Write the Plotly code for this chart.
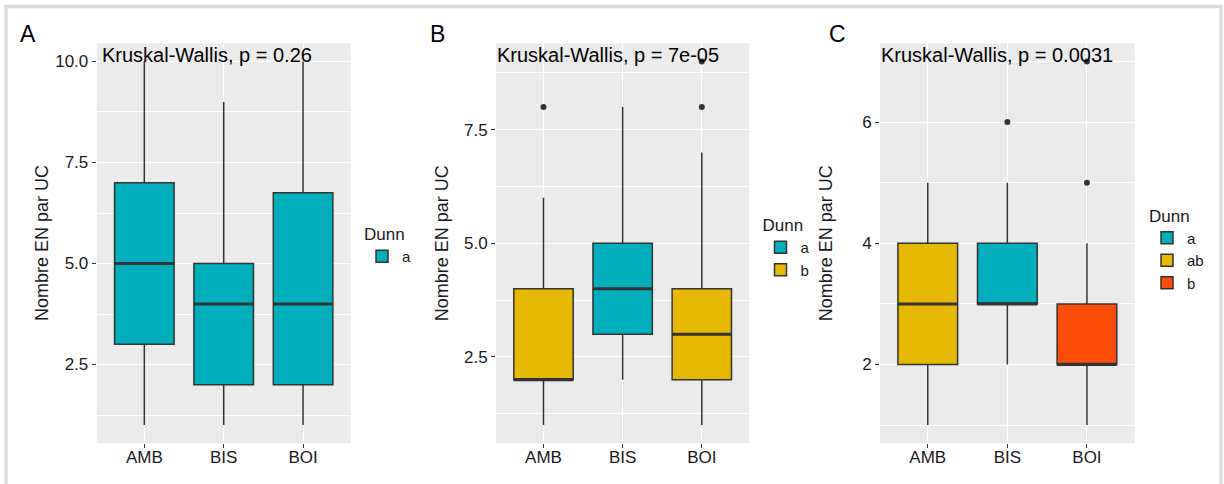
import plotly.graph_objects as go

# ---------------- data ----------------
categories = ["AMB", "BIS", "BOI"]

a_q1 = [3, 2, 2]
a_median = [5, 4, 4]
a_q3 = [7, 5, 6.75]
a_low = [1, 1, 1]
a_high = [10, 9, 10]
a_group = ["a", "a", "a"]
a_outliers = [[], [], []]
a_ticks = [2.5, 5.0, 7.5, 10.0]
a_ticktext = ["2.5", "5.0", "7.5", "10.0"]
a_minor = [1.25, 3.75, 6.25, 8.75]
a_label = "Kruskal-Wallis, p = 0.26"

b_q1 = [2, 3, 2]
b_median = [2, 4, 3]
b_q3 = [4, 5, 4]
b_low = [1, 2, 1]
b_high = [6, 8, 7]
b_group = ["b", "a", "b"]
b_outliers = [[8], [], [8, 9]]
b_ticks = [2.5, 5.0, 7.5]
b_ticktext = ["2.5", "5.0", "7.5"]
b_minor = [1.25, 3.75, 6.25, 8.75]
b_label = "Kruskal-Wallis, p = 7e-05"

c_q1 = [2, 3, 2]
c_median = [3, 3, 2]
c_q3 = [4, 4, 3]
c_low = [1, 2, 1]
c_high = [5, 5, 4]
c_group = ["ab", "a", "b"]
c_outliers = [[], [6], [5, 7]]
c_ticks = [2, 4, 6]
c_ticktext = ["2", "4", "6"]
c_minor = [1, 3, 5, 7]
c_label = "Kruskal-Wallis, p = 0.0031"

panel_palettes = [
    {"a": "#00AFBB"},
    {"a": "#00AFBB", "b": "#E7B800"},
    {"a": "#00AFBB", "ab": "#E7B800", "b": "#FC4E07"},
]

y_title = "Nombre EN par UC"
legend_title = "Dunn"
panel_letters = ["A", "B", "C"]

# ---------------- layout geometry ----------------
W, H = 1224, 484
FONT = "Liberation Sans, Arial, Helvetica, sans-serif"
TXT = "#1a1a1a"
plot_x = [(96.7, 350.7), (496.0, 749.3), (880.0, 1134.7)]
plot_top, plot_bot = 43.3, 443.3
legend_x = [362.0, 760.5, 1147.0]
legend_top = [218.0, 209.0, 199.5]
letter_x = [28, 437, 837]
label_x = [99.5, 495.3, 879.3]


def px_x(v):
    return v / W


def px_y(v):
    return 1 - v / H


panels = [
    (a_q1, a_median, a_q3, a_low, a_high, a_group, a_outliers, a_ticks, a_ticktext, a_minor, a_label),
    (b_q1, b_median, b_q3, b_low, b_high, b_group, b_outliers, b_ticks, b_ticktext, b_minor, b_label),
    (c_q1, c_median, c_q3, c_low, c_high, c_group, c_outliers, c_ticks, c_ticktext, c_minor, c_label),
]

fig = go.Figure()
annotations = []
BOXW = 0.75
positions = list(range(1, len(categories) + 1))

for p, (q1, med, q3, lo, hi, grp, outl, ticks, ticktext, minor, label) in enumerate(panels):
    ax = "" if p == 0 else str(p + 1)
    xa, ya = "x" + ax, "y" + ax
    leg = "legend" if p == 0 else "legend" + str(p + 1)
    pal = panel_palettes[p]
    for g in sorted(set(grp)):
        idx = [i for i, gg in enumerate(grp) if gg == g]
        fig.add_trace(go.Box(
            x=[positions[i] for i in idx],
            q1=[q1[i] for i in idx], median=[med[i] for i in idx], q3=[q3[i] for i in idx],
            lowerfence=[lo[i] for i in idx], upperfence=[hi[i] for i in idx],
            name=g, fillcolor=pal[g], line=dict(color="#333333", width=1.5),
            width=BOXW, boxpoints=False, whiskerwidth=0,
            xaxis=xa, yaxis=ya, legend=leg, showlegend=True, hoverinfo="skip",
        ))
    # thicker median lines
    mx, my = [], []
    for i, m in enumerate(med):
        mx += [positions[i] - BOXW / 2, positions[i] + BOXW / 2, None]
        my += [m, m, None]
    fig.add_trace(go.Scatter(x=mx, y=my, mode="lines", line=dict(color="#333333", width=3),
                             xaxis=xa, yaxis=ya, showlegend=False, hoverinfo="skip"))
    # outliers
    ox, oy = [], []
    for i, vals in enumerate(outl):
        for v in vals:
            ox.append(positions[i])
            oy.append(v)
    if ox:
        fig.add_trace(go.Scatter(x=ox, y=oy, mode="markers", marker=dict(color="#333333", size=6),
                                 xaxis=xa, yaxis=ya, showlegend=False, hoverinfo="skip"))
    # y range with ggplot 5% expansion
    all_vals = lo + hi + [v for vs in outl for v in vs]
    vmin, vmax = min(all_vals), max(all_vals)
    pad = 0.05 * (vmax - vmin)
    x0, x1 = plot_x[p]
    common_tick = dict(ticks="outside", ticklen=4, tickwidth=1.1, tickcolor="#333333",
                       tickfont=dict(family=FONT, size=17, color=TXT), zeroline=False,
                       showline=False, gridcolor="white", gridwidth=1.2, fixedrange=True)
    fig.update_layout(**{
        "xaxis" + ax: dict(domain=[px_x(x0), px_x(x1)], anchor=ya, range=[0.4, len(categories) + 0.6],
                           tickmode="array", tickvals=positions, ticktext=categories,
                           ticklabelstandoff=-6, **common_tick),
        "yaxis" + ax: dict(domain=[px_y(plot_bot), px_y(plot_top)], anchor=xa,
                           range=[vmin - pad, vmax + pad], tickmode="array", tickvals=ticks,
                           ticktext=ticktext,
                           minor=dict(tickvals=minor, showgrid=True, gridcolor="white", gridwidth=0.6, ticks=""),
                           **common_tick),
        leg: dict(x=px_x(legend_x[p]), xanchor="left", y=px_y(legend_top[p]),
                  yanchor="top", bgcolor="rgba(0,0,0,0)",
                  title=dict(text=legend_title, font=dict(family=FONT, size=17, color=TXT)),
                  font=dict(family=FONT, size=15, color=TXT), tracegroupgap=0, itemwidth=30),
    })
    annotations.append(dict(text=label, x=px_x(label_x[p]), y=px_y(55), xref="paper", yref="paper",
                            xanchor="left", yanchor="middle", showarrow=False,
                            font=dict(family=FONT, size=20, color="black")))
    annotations.append(dict(text=y_title, x=px_x(x0 - 54), y=px_y((plot_top + plot_bot) / 2),
                            xref="paper", yref="paper", xanchor="center", yanchor="middle",
                            textangle=-90, showarrow=False, font=dict(family=FONT, size=18, color=TXT)))
    annotations.append(dict(text=panel_letters[p], x=px_x(letter_x[p]), y=px_y(34), xref="paper",
                            yref="paper", xanchor="center", yanchor="middle", showarrow=False,
                            font=dict(family=FONT, size=23, color="black")))

fig.update_layout(
    width=W, height=H, margin=dict(l=0, r=0, t=0, b=0),
    paper_bgcolor="white", plot_bgcolor="#EBEBEB",
    font=dict(family=FONT, color=TXT), boxmode="overlay",
    annotations=annotations,
    shapes=[dict(type="rect", xref="paper", yref="paper", x0=px_x(6), x1=px_x(1221),
                 y0=-0.2, y1=px_y(6.5), line=dict(color="#DADADA", width=3.5), layer="below")],
)

fig.write_html("out.html", config={"displayModeBar": False},
               post_script="document.body.style.margin='0';document.body.style.overflow='hidden';")
